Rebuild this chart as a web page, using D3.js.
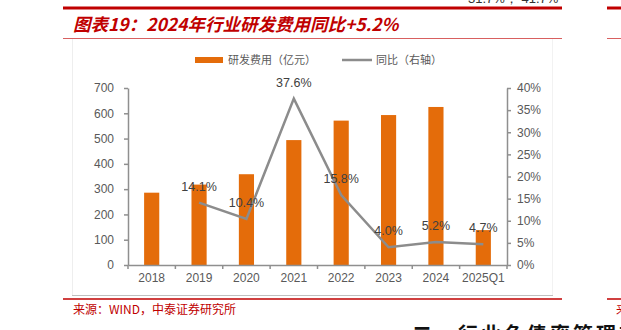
<!DOCTYPE html>
<html>
<head>
<meta charset="utf-8">
<script src="https://cdn.jsdelivr.net/npm/d3@7"></script>
<style>
  body { margin: 0; background: #fff; }
  svg { display: block; }
</style>
</head>
<body>
<div id="chart"></div>
<script>
// chart data
const categories = ["2018", "2019", "2020", "2021", "2022", "2023", "2024", "2025Q1"];
const rdExpense = [286, 318, 359, 494, 571, 593, 625, 138];          // 研发费用（亿元）
const yoyGrowth = [null, 14.1, 10.4, 37.6, 15.8, 4.0, 5.2, 4.7];   // 同比（%）
const leftTicks = [0, 100, 200, 300, 400, 500, 600, 700];
const rightTicks = [0, 5, 10, 15, 20, 25, 30, 35, 40];

const W = 621, H = 330;
const red = "#c00000";
const orange = "#e46c0a";
const lineGray = "#8c8c8c";
const axisGray = "#8f8f8f";
const textGray = "#595959";
const latin = "'Liberation Sans', Arial, sans-serif";
const cjk = "'Noto Sans CJK SC', 'Noto Sans', sans-serif";

const svg = d3.select("#chart").append("svg")
    .attr("width", W)
    .attr("height", H);

// page furniture: red rules, title, frame, source
svg.append("line").attr("x1", 63).attr("x2", 562).attr("y1", 8).attr("y2", 8)
    .attr("stroke", red).attr("stroke-width", 3);
svg.append("line").attr("x1", 607).attr("x2", W).attr("y1", 8).attr("y2", 8)
    .attr("stroke", red).attr("stroke-width", 3);
svg.append("line").attr("x1", 63).attr("x2", 562).attr("y1", 38.5).attr("y2", 38.5)
    .attr("stroke", "#d86060").attr("stroke-width", 1);
svg.append("line").attr("x1", 607).attr("x2", W).attr("y1", 38.5).attr("y2", 38.5)
    .attr("stroke", "#d86060").attr("stroke-width", 1);

// clipped text from previous paragraph at the very top
svg.append("text").attr("x", 468).attr("y", 3)
    .style("font-family", latin).style("font-size", "13px").attr("fill", "#333")
    .text("31.7%，    41.7%");

svg.append("text")
    .attr("x", 73).attr("y", 31)
    .attr("fill", red)
    .style("font-family", cjk)
    .style("font-size", "17.5px")
    .style("font-weight", "bold")
    .style("font-style", "italic")
    .text("图表19：2024年行业研发费用同比+5.2%");

// light frame around the chart
svg.append("line").attr("x1", 72.5).attr("x2", 72.5).attr("y1", 39).attr("y2", 295)
    .attr("stroke", "#eeeeee");
svg.append("line").attr("x1", 552.5).attr("x2", 552.5).attr("y1", 39).attr("y2", 295)
    .attr("stroke", "#f2f2f2");
svg.append("line").attr("x1", 72).attr("x2", 553).attr("y1", 295.5).attr("y2", 295.5)
    .attr("stroke", "#c0c0c0");

svg.append("line").attr("x1", 63).attr("x2", 562).attr("y1", 299).attr("y2", 299)
    .attr("stroke", red).attr("stroke-width", 1.5);
svg.append("line").attr("x1", 607).attr("x2", W).attr("y1", 299).attr("y2", 299)
    .attr("stroke", red).attr("stroke-width", 1.5);

svg.append("text")
    .attr("x", 73).attr("y", 314)
    .attr("fill", red)
    .style("font-family", cjk)
    .style("font-size", "12px")
    .text("来源：WIND，中泰证券研究所");
svg.append("text")
    .attr("x", 616).attr("y", 314)
    .attr("fill", red)
    .style("font-family", cjk)
    .style("font-size", "12px")
    .text("来");

// clipped heading of the next section
svg.append("text")
    .attr("x", 412).attr("y", 342)
    .attr("fill", "#111")
    .style("font-family", "'Noto Sans CJK SC', sans-serif")
    .style("font-size", "20px")
    .style("font-weight", "bold")
    .style("letter-spacing", "3px")
    .text("二、行业负债率管理难");

// plot area
const plotLeft = 128, plotRight = 507, plotTop = 88, plotBottom = 265;

const x = d3.scaleBand()
    .domain(categories)
    .range([plotLeft, plotRight])
    .paddingInner(0.68)
    .paddingOuter(0.34);

const y = d3.scaleLinear().domain([0, 700]).range([plotBottom, plotTop]);
const y2 = d3.scaleLinear().domain([0, 40]).range([plotBottom, plotTop]);

// bars
svg.append("g").selectAll("rect")
    .data(categories)
    .enter()
    .append("rect")
    .attr("x", d => x(d))
    .attr("width", x.bandwidth())
    .attr("y", (d, i) => y(rdExpense[i]))
    .attr("height", (d, i) => y(0) - y(rdExpense[i]))
    .attr("fill", orange);

// left axis
const gLeft = svg.append("g")
    .attr("transform", `translate(${plotLeft},0)`)
    .call(d3.axisLeft(y).tickValues(leftTicks).tickSize(4).tickPadding(10).tickSizeOuter(0));

// right axis
const gRight = svg.append("g")
    .attr("transform", `translate(${plotRight},0)`)
    .call(d3.axisRight(y2).tickValues(rightTicks).tickSize(4).tickPadding(6).tickSizeOuter(0)
        .tickFormat(d => d + "%"));

// bottom axis: labels at band centres, ticks at band edges
const gBottom = svg.append("g")
    .attr("transform", `translate(0,${plotBottom})`)
    .call(d3.axisBottom(x).tickSize(0).tickPadding(8).tickSizeOuter(0));

const edges = d3.range(categories.length + 1).map(i => plotLeft + i * x.step());
gBottom.selectAll(".edge")
    .data(edges)
    .enter()
    .append("line")
    .attr("class", "edge")
    .attr("x1", d => d).attr("x2", d => d)
    .attr("y1", 0).attr("y2", 4)
    .attr("stroke", axisGray)
    .attr("stroke-width", 1.5);

[gLeft, gRight, gBottom].forEach(g => {
    g.select(".domain").attr("stroke", axisGray).attr("stroke-width", 1.5);
    g.selectAll(".tick line").attr("stroke", axisGray).attr("stroke-width", 1.5);
    g.selectAll("text")
        .attr("fill", textGray)
        .style("font-family", latin)
        .style("font-size", "12px");
});

// growth line (right axis)
const linePoints = categories
    .map((c, i) => ({ cat: c, v: yoyGrowth[i] }))
    .filter(d => d.v !== null);

const line = d3.line()
    .x(d => x(d.cat) + x.bandwidth() / 2)
    .y(d => y2(d.v));

svg.append("path")
    .datum(linePoints)
    .attr("d", line)
    .attr("fill", "none")
    .attr("stroke", lineGray)
    .attr("stroke-width", 2.5)
    .attr("stroke-linejoin", "miter");

// data labels
svg.append("g").selectAll("text")
    .data(linePoints)
    .enter()
    .append("text")
    .attr("x", d => x(d.cat) + x.bandwidth() / 2)
    .attr("y", d => y2(d.v) - 12)
    .attr("text-anchor", "middle")
    .attr("fill", "#404040")
    .style("font-family", latin)
    .style("font-size", "12.5px")
    .text(d => d.v.toFixed(1) + "%");

// legend
const legend = svg.append("g").attr("transform", "translate(195,60)");
legend.append("rect")
    .attr("x", 0).attr("y", -3)
    .attr("width", 28).attr("height", 6)
    .attr("fill", orange);
legend.append("text")
    .attr("x", 33).attr("y", 4)
    .attr("fill", textGray)
    .style("font-family", cjk)
    .style("font-size", "11px")
    .text("研发费用（亿元）");
legend.append("line")
    .attr("x1", 147).attr("x2", 177)
    .attr("y1", 0).attr("y2", 0)
    .attr("stroke", lineGray)
    .attr("stroke-width", 2.5);
legend.append("text")
    .attr("x", 181).attr("y", 4)
    .attr("fill", textGray)
    .style("font-family", cjk)
    .style("font-size", "11px")
    .text("同比（右轴）");
</script>
</body>
</html>
